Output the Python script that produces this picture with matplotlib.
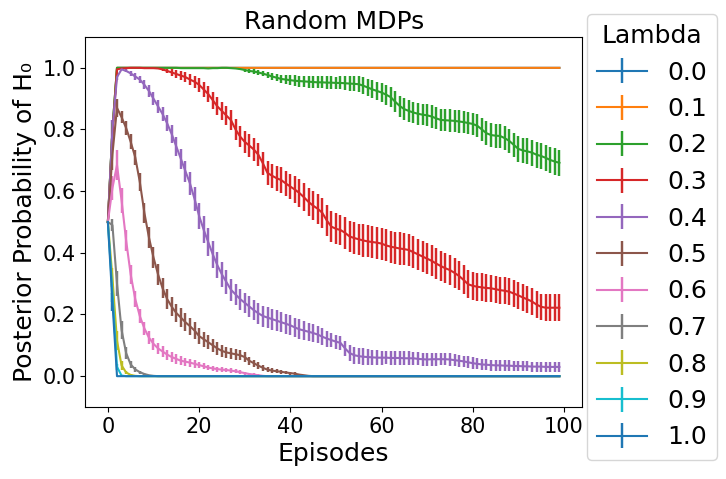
import numpy as np
import matplotlib
matplotlib.use('Agg')
import matplotlib.pyplot as plt

episodes = np.arange(100)
lambdas = ['0.0', '0.1', '0.2', '0.3', '0.4', '0.5', '0.6', '0.7', '0.8', '0.9', '1.0']

#mean posterior of H0 per episode, one list per lambda
mean_00 = [0.5, 0.8] + [1.0] * 98
mean_01 = [0.5, 0.8] + [1.0] * 98
mean_02 = [0.5, 0.8, 1.0, 1.0, 1.0, 1.0, 1.0, 1.0, 1.0, 1.0,
           1.0, 1.0, 1.0, 1.0, 1.0, 1.0, 0.999, 0.999, 0.999, 0.999,
           0.999, 0.999, 0.998, 0.999, 0.999, 1.0, 1.0, 0.999, 0.998, 0.996,
           0.993, 0.99, 0.988, 0.985, 0.981, 0.977, 0.972, 0.968, 0.964, 0.962,
           0.96, 0.958, 0.957, 0.956, 0.955, 0.954, 0.953, 0.953, 0.952, 0.952,
           0.951, 0.951, 0.95, 0.949, 0.948, 0.947, 0.942, 0.936, 0.93, 0.925,
           0.92, 0.913, 0.905, 0.89, 0.876, 0.866, 0.86, 0.855, 0.851, 0.848,
           0.846, 0.842, 0.836, 0.831, 0.83, 0.829, 0.828, 0.826, 0.824, 0.821,
           0.818, 0.812, 0.8, 0.788, 0.782, 0.78, 0.779, 0.772, 0.763, 0.75,
           0.737, 0.732, 0.729, 0.725, 0.718, 0.714, 0.708, 0.701, 0.696, 0.692]
mean_03 = [0.5, 0.78, 0.995, 0.998, 0.999, 1.0, 1.0, 1.0, 0.999, 0.999,
           0.999, 0.998, 0.995, 0.99, 0.985, 0.98, 0.975, 0.97, 0.962, 0.955,
           0.945, 0.93, 0.915, 0.895, 0.875, 0.86, 0.845, 0.83, 0.8, 0.777,
           0.76, 0.748, 0.735, 0.718, 0.69, 0.659, 0.65, 0.642, 0.636, 0.625,
           0.615, 0.605, 0.594, 0.58, 0.565, 0.553, 0.543, 0.53, 0.505, 0.485,
           0.478, 0.474, 0.465, 0.453, 0.448, 0.444, 0.44, 0.437, 0.435, 0.433,
           0.43, 0.424, 0.42, 0.417, 0.414, 0.412, 0.409, 0.402, 0.395, 0.388,
           0.381, 0.374, 0.365, 0.357, 0.35, 0.344, 0.335, 0.325, 0.312, 0.298,
           0.293, 0.29, 0.288, 0.286, 0.285, 0.282, 0.279, 0.277, 0.274, 0.268,
           0.262, 0.255, 0.249, 0.242, 0.232, 0.225, 0.222, 0.222, 0.222, 0.222]
mean_04 = [0.5, 0.8, 0.97, 0.995, 0.99, 0.982, 0.972, 0.962, 0.945, 0.925,
           0.9, 0.875, 0.85, 0.82, 0.785, 0.745, 0.705, 0.665, 0.625, 0.575,
           0.52, 0.475, 0.435, 0.395, 0.36, 0.33, 0.305, 0.28, 0.265, 0.25,
           0.238, 0.226, 0.214, 0.204, 0.195, 0.19, 0.185, 0.18, 0.175, 0.17,
           0.165, 0.158, 0.152, 0.148, 0.144, 0.14, 0.135, 0.128, 0.122, 0.117,
           0.112, 0.108, 0.09, 0.075, 0.068, 0.065, 0.063, 0.062, 0.061, 0.06,
           0.06, 0.06, 0.059, 0.059, 0.059, 0.058, 0.058, 0.058, 0.056, 0.055,
           0.054, 0.055, 0.055, 0.055, 0.055, 0.054, 0.052, 0.05, 0.048, 0.045,
           0.042, 0.04, 0.038, 0.037, 0.036, 0.035, 0.035, 0.034, 0.034, 0.033,
           0.033, 0.032, 0.032, 0.031, 0.031, 0.031, 0.03, 0.03, 0.03, 0.03]
mean_05 = [0.5, 0.72, 0.87, 0.84, 0.805, 0.76, 0.71, 0.63, 0.53, 0.45,
           0.385, 0.33, 0.285, 0.25, 0.225, 0.205, 0.19, 0.175, 0.162, 0.148,
           0.13, 0.12, 0.11, 0.1, 0.09, 0.082, 0.077, 0.074, 0.071, 0.068,
           0.062, 0.05, 0.042, 0.034, 0.027, 0.021, 0.018, 0.016, 0.014, 0.012,
           0.01, 0.008, 0.005, 0.003, 0.001] + [0.0] * 55
mean_06 = [0.5, 0.61, 0.685, 0.57, 0.44, 0.33, 0.25, 0.195, 0.155, 0.125,
           0.105, 0.09, 0.08, 0.07, 0.062, 0.056, 0.05, 0.047, 0.044, 0.04,
           0.036, 0.032, 0.028, 0.025, 0.023, 0.021, 0.02, 0.018, 0.016, 0.013,
           0.01, 0.007, 0.005, 0.003, 0.001] + [0.0] * 65
mean_07 = [0.5, 0.49, 0.3, 0.15, 0.075, 0.038, 0.022, 0.013, 0.007, 0.003, 0.001] + [0.0] * 89
mean_08 = [0.5, 0.32, 0.115, 0.035, 0.012, 0.004, 0.001] + [0.0] * 93
mean_09 = [0.5, 0.27, 0.03, 0.002] + [0.0] * 96
mean_10 = [0.5, 0.24] + [0.0] * 98

#standard error bars
err_00 = [0.0] * 100
err_01 = [0.0] * 100
err_02 = [0.0] * 29 + [
           0.003, 0.005, 0.006, 0.007, 0.008, 0.009, 0.01, 0.011, 0.012, 0.014,
           0.016, 0.017, 0.018, 0.018, 0.018, 0.019, 0.019, 0.019, 0.02, 0.02,
           0.02, 0.02, 0.021, 0.022, 0.023, 0.024, 0.026, 0.027, 0.028, 0.029,
           0.03, 0.031, 0.032, 0.033, 0.034, 0.034, 0.035, 0.035, 0.035, 0.035,
           0.035, 0.036, 0.036, 0.036, 0.036, 0.036, 0.036, 0.036, 0.036, 0.036,
           0.036, 0.037, 0.037, 0.038, 0.038, 0.039, 0.039, 0.04, 0.04, 0.04,
           0.04, 0.041, 0.041, 0.042, 0.042, 0.042, 0.043, 0.043, 0.043, 0.043,
           0.043]
err_03 = [0.0] * 11 + [
           0.003, 0.005, 0.008, 0.01, 0.012, 0.014, 0.016, 0.018, 0.02,
           0.022, 0.024, 0.026, 0.028, 0.029, 0.03, 0.031, 0.032, 0.033, 0.034,
           0.035, 0.036, 0.037, 0.037, 0.038, 0.038, 0.039, 0.04, 0.041, 0.042,
           0.042, 0.043, 0.044, 0.045, 0.046, 0.047, 0.048, 0.049, 0.049, 0.05,
           0.05, 0.05, 0.051, 0.051, 0.051, 0.051, 0.052, 0.052, 0.052, 0.052,
           0.052, 0.052, 0.052, 0.052, 0.052, 0.051, 0.051, 0.051, 0.051, 0.051,
           0.051, 0.05, 0.05, 0.049, 0.049, 0.048, 0.048, 0.047, 0.047, 0.046,
           0.046, 0.045, 0.045, 0.045, 0.044, 0.044, 0.044, 0.044, 0.044, 0.044,
           0.043, 0.043, 0.043, 0.043, 0.043, 0.043, 0.043, 0.043, 0.043, 0.043]
err_04 = [0.0, 0.03, 0.01, 0.003, 0.005, 0.008, 0.01, 0.012, 0.015, 0.018,
          0.02, 0.022, 0.024, 0.026, 0.028, 0.03, 0.032, 0.034, 0.036, 0.04,
          0.042, 0.044, 0.046, 0.044, 0.042, 0.04, 0.038, 0.036, 0.035, 0.034,
          0.033, 0.033, 0.033, 0.034, 0.034, 0.034, 0.034, 0.034, 0.033, 0.033,
          0.033, 0.032, 0.032, 0.031, 0.03, 0.029, 0.028, 0.027, 0.026, 0.024,
          0.023, 0.023, 0.025, 0.026, 0.027, 0.027, 0.027, 0.026, 0.025, 0.024,
          0.023, 0.022, 0.022, 0.022, 0.022, 0.022, 0.022, 0.021, 0.021, 0.021,
          0.021, 0.021, 0.021, 0.02, 0.02, 0.02, 0.02, 0.02, 0.019, 0.019,
          0.019, 0.018, 0.018, 0.018, 0.018, 0.017, 0.017, 0.017, 0.017, 0.017,
          0.017, 0.016, 0.016, 0.016, 0.016, 0.016, 0.016, 0.016, 0.016, 0.016]
err_05 = [0.0, 0.05, 0.03, 0.02, 0.022, 0.024, 0.025, 0.03, 0.032, 0.034,
          0.035, 0.034, 0.033, 0.032, 0.031, 0.03, 0.03, 0.029, 0.028, 0.027,
          0.025, 0.024, 0.023, 0.022, 0.021, 0.02, 0.019, 0.018, 0.017, 0.016,
          0.015, 0.013, 0.012, 0.011, 0.01, 0.009, 0.008, 0.007, 0.006, 0.005,
          0.005, 0.004, 0.003, 0.002, 0.001] + [0.0] * 55
err_06 = [0.0, 0.04, 0.05, 0.04, 0.035, 0.03, 0.025, 0.023, 0.022, 0.021,
          0.02, 0.018, 0.017, 0.016, 0.015, 0.015, 0.014, 0.013, 0.013, 0.012,
          0.01, 0.01, 0.009, 0.009, 0.008, 0.008, 0.007, 0.007, 0.006, 0.006,
          0.005, 0.004, 0.004, 0.003, 0.001] + [0.0] * 65
err_07 = [0.0, 0.02, 0.04, 0.03, 0.02, 0.012, 0.008, 0.005, 0.003, 0.002, 0.001] + [0.0] * 89
err_08 = [0.0, 0.03, 0.03, 0.015, 0.006, 0.002, 0.001] + [0.0] * 93
err_09 = [0.0, 0.03, 0.01, 0.001] + [0.0] * 96
err_10 = [0.0, 0.03] + [0.0] * 98

means = [mean_00, mean_01, mean_02, mean_03, mean_04, mean_05,
         mean_06, mean_07, mean_08, mean_09, mean_10]
errs = [err_00, err_01, err_02, err_03, err_04, err_05,
        err_06, err_07, err_08, err_09, err_10]

fig = plt.figure(figsize=(7.26, 4.79), dpi=100)
ax = fig.add_axes([85.3 / 726, 1 - 407 / 479, (582 - 85.3) / 726, (407 - 37) / 479])
for lam, m, e in zip(lambdas, means, errs):
    ax.errorbar(episodes, m, yerr=e, label=lam, elinewidth=1.75)

ax.set_ylim(-0.1, 1.1)
ax.set_title('Random MDPs', fontsize=18)
ax.set_xlabel('Episodes', fontsize=18)
ax.set_ylabel('Posterior Probability of H\u2080', fontsize=18)
ax.tick_params(labelsize=15)
fig.legend(title='Lambda', fontsize=18, title_fontsize=18, loc='upper left',
           bbox_to_anchor=(587 / 726, 1 - 14 / 479), borderaxespad=0)
fig.savefig('out.png', dpi=100)
